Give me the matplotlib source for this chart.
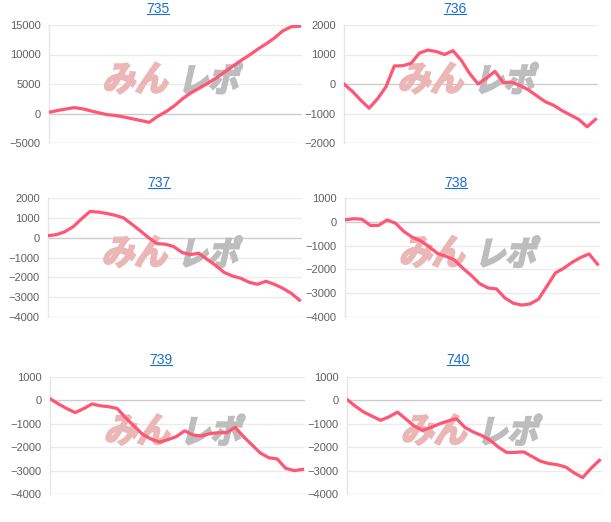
import matplotlib
matplotlib.use("Agg")
import matplotlib.pyplot as plt
from matplotlib.lines import Line2D
from matplotlib.textpath import TextPath
from matplotlib.patches import PathPatch
from matplotlib.font_manager import FontProperties
from matplotlib.transforms import Affine2D
import numpy as np

plt.rcParams['font.family'] = ['Liberation Sans', 'DejaVu Sans']

# machine numbers
names = ['735', '736', '737', '738', '739', '740']

# cumulative medal difference
s735 = [200, 500, 750, 1000, 800, 450, 100, -200, -350, -600, -900, -1200, -1500, -500, 300,
        1300, 2500, 3500, 4300, 5100, 6000, 7000, 8000, 9000, 9900, 10900, 11800, 12800, 14000, 14700, 14800]
s736 = [0, -250, -550, -820, -500, -100, 610, 620, 700, 1050, 1150, 1100, 1000, 1130, 800,
        350, 0, 200, 430, 50, 60, -50, -200, -400, -600, -720, -900, -1050, -1200, -1450, -1200]
s737 = [100, 150, 300, 550, 950, 1320, 1290, 1220, 1130, 1000, 680, 350, 0, -300, -330,
        -450, -750, -850, -790, -1100, -1400, -1750, -1930, -2050, -2250, -2350, -2200, -2350, -2550, -2800, -3150]
s738 = [80, 130, 110, -150, -150, 80, -60, -410, -650, -800, -1050, -1330, -1450, -1600, -1950,
        -2250, -2600, -2780, -2820, -3200, -3420, -3500, -3450, -3250, -2700, -2150, -1950, -1700, -1500, -1350, -1780]
s739 = [70, -150, -350, -520, -350, -150, -230, -270, -350, -750, -1100, -1450, -1650, -1780, -1680,
        -1550, -1300, -1480, -1520, -1420, -1380, -1380, -1150, -1550, -1900, -2250, -2450, -2500, -2900, -3000, -2950]
s740 = [40, -250, -500, -680, -850, -700, -500, -800, -1100, -1280, -1150, -1000, -880, -780, -1150,
        -1350, -1500, -1700, -2000, -2230, -2220, -2200, -2400, -2600, -2700, -2750, -2850, -3100, -3300, -2900, -2560]
series = [s735, s736, s737, s738, s739, s740]

ylims = [(-5000, 15000), (-2000, 2000), (-4000, 2000), (-4000, 1000), (-4000, 1000), (-4000, 1000)]
ysteps = [5000, 1000, 1000, 1000, 1000, 1000]

W, H = 611, 522
# axes boxes in pixels: left, top, right, bottom
boxes = [(49, 25, 302, 143), (344, 25, 598, 143),
         (48, 198, 302, 317), (345, 198, 600, 317),
         (50, 377, 305, 494), (347, 377, 602, 494)]
titles_xy = [(158, 9), (455, 9), (159, 183), (456, 183), (161, 360), (458, 360)]

wm_font = FontProperties(family='Noto Sans CJK JP', weight='bold')


def watermark(ax, s, box, color):
    tp = TextPath((0, 0), s, size=1, prop=wm_font)
    tp = tp.transformed(Affine2D().skew_deg(14, 0))
    v = tp.vertices
    x0, y0 = v[:, 0].min(), v[:, 1].min()
    x1, y1 = v[:, 0].max(), v[:, 1].max()
    bx0, by0, bx1, by1 = box
    tr = Affine2D().translate(-x0, -y0).scale((bx1 - bx0) / (x1 - x0), (by1 - by0) / (y1 - y0)) \
        .translate(bx0, by0) + ax.transAxes
    ax.add_patch(PathPatch(tp, transform=tr, facecolor=color, edgecolor=color,
                           lw=1.6, joinstyle='miter', zorder=1))


fig = plt.figure(figsize=(W / 100, H / 100), dpi=100)

for k in range(6):
    l, t, r, b = boxes[k]
    ax = fig.add_axes([l / W, (H - b) / H, (r - l) / W, (b - t) / H])
    y = np.array(series[k])
    x = np.arange(len(y))
    lo, hi = ylims[k]
    ticks = np.arange(lo, hi + 1, ysteps[k])
    for tv in ticks:
        c = '#cccccc' if tv == 0 or tv == lo else '#ebebeb'
        ax.axhline(tv, color=c, lw=1, zorder=0)
    watermark(ax, 'みん', (0.21, 0.42, 0.47, 0.68), '#ebb6b6')
    watermark(ax, 'レポ', (0.51, 0.42, 0.765, 0.68), '#bdbdbd')
    ax.plot(x, y, color='#ff5674', lw=2.3, solid_joinstyle='round', zorder=3)
    ax.set_xlim(0, 30.3)
    ax.set_ylim(lo, hi)
    ax.set_yticks(ticks)
    ax.set_yticklabels([str(int(v)).replace('-', '\u2212') for v in ticks], fontsize=8, color='#606060')
    ax.tick_params(axis='y', length=0, pad=6)
    ax.set_xticks([])
    for sp in ['top', 'right', 'bottom']:
        ax.spines[sp].set_visible(False)
    ax.spines['left'].set_color('#e6e6e6')
    ax.spines['left'].set_linewidth(1)
    tx, ty = titles_xy[k]
    fig.text(tx / W, (H - ty) / H, names[k], ha='center', va='center',
             fontsize=10, color='#1a6fc9')
    fig.lines.append(Line2D([(tx - 11) / W, (tx + 11) / W], [(H - ty - 5) / H] * 2,
                            transform=fig.transFigure, color='#1a6fc9', lw=0.8))

fig.savefig('out.png', dpi=100)
